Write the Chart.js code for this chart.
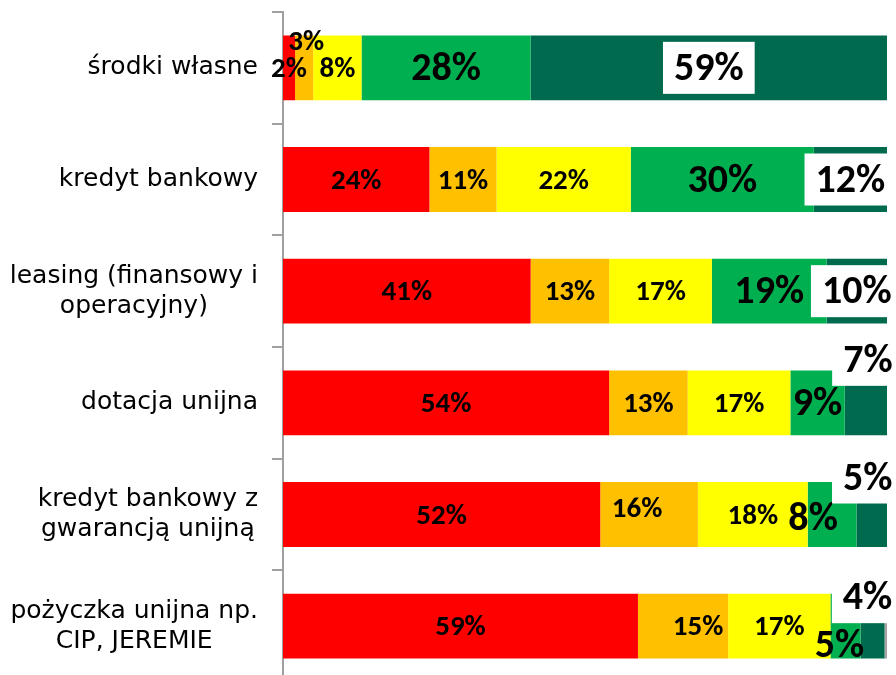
<!DOCTYPE html>
<html>
<head>
<meta charset="utf-8">
<script src="https://cdn.jsdelivr.net/npm/chart.js@4.4.1/dist/chart.umd.min.js"></script>
<style>
    body { margin: 0; background: #fff; overflow: hidden; }
    #wrap { width: 896px; height: 682px; }
</style>
</head>
<body>
<div id="wrap"><canvas id="myChart" width="896" height="682"></canvas></div>
<script>
// categories (top to bottom)
const categories = [
    "środki własne",
    "kredyt bankowy",
    ["leasing (finansowy i", "operacyjny)"],
    "dotacja unijna",
    ["kredyt bankowy z", "gwarancją unijną"],
    ["pożyczka unijna np.", "CIP, JEREMIE"]
];

// answer shares in %, one array per colour band
const redValues = [2, 24, 41, 54, 52, 59];
const orangeValues = [3, 11, 13, 13, 16, 15];
const yellowValues = [8, 22, 17, 17, 18, 17];
const greenValues = [28, 30, 19, 9, 8, 5];
const darkGreenValues = [59, 12, 10, 7, 5, 4];
const greyValues = [0, 0, 0, 0, 0, 0.4];

const seriesValues = [redValues, orangeValues, yellowValues, greenValues, darkGreenValues, greyValues];
const seriesColors = ['#FF0000', '#FFC000', '#FFFF00', '#00B050', '#006A4E', '#A6A6A6'];

// 100% stacked like in excel: every row is scaled to its own total
const rowTotals = categories.map((c, i) => seriesValues.reduce((s, arr) => s + arr[i], 0));
const datasets = seriesValues.map((arr, k) => ({
    data: arr.map((v, i) => v / rowTotals[i] * 100),
    backgroundColor: seriesColors[k],
    borderWidth: 0,
    barPercentage: 0.58,
    categoryPercentage: 1
}));

const labelFont = 'Carlito, "Liberation Sans Narrow", "DejaVu Sans Condensed", sans-serif';
// label look per series: size, white box
const labelStyle = [
    { size: 29, box: false },
    { size: 29, box: false },
    { size: 29, box: false },
    { size: 40, box: false },
    { size: 40, box: true },
    null
];
// hand nudges of single labels, "row,series": [dx, dy]
const nudge = {
    "0,1": [2, -27],
    "3,4": [2, -43],
    "4,1": [-12, -7],
    "4,3": [-19, 3],
    "4,4": [-4, -37],
    "5,1": [15, 0],
    "5,3": [-6, 19],
    "5,4": [-5, -29]
};

const valueLabels = {
    id: 'valueLabels',
    afterDatasetsDraw(chart) {
        const ctx = chart.ctx;
        ctx.save();
        ctx.textAlign = 'center';
        ctx.textBaseline = 'middle';
        chart.data.datasets.forEach((ds, k) => {
            const st = labelStyle[k];
            if (!st) return;
            chart.getDatasetMeta(k).data.forEach((bar, i) => {
                const txt = seriesValues[k][i] + '%';
                const d = nudge[i + ',' + k] || [0, 0];
                const x = (bar.x + bar.base) / 2 + d[0];
                const y = bar.y + d[1];
                ctx.font = 'bold ' + st.size + 'px ' + labelFont;
                if (st.box) {
                    const w = ctx.measureText(txt).width + 22;
                    ctx.fillStyle = '#FFFFFF';
                    ctx.fillRect(x - w / 2, y - 26, w, 52);
                }
                ctx.fillStyle = '#000000';
                ctx.fillText(txt, x, y + 2);
            });
        });
        ctx.restore();
    }
};

// category names: block right aligned to the axis, lines centred inside the block (like excel)
const categoryLabels = {
    id: 'categoryLabels',
    afterDraw(chart) {
        const ctx = chart.ctx;
        const yScale = chart.scales.y;
        const right = chart.chartArea.left - 25;
        const lineH = 30;
        ctx.save();
        ctx.font = '25px "DejaVu Sans", sans-serif';
        ctx.fillStyle = '#000000';
        ctx.textAlign = 'center';
        ctx.textBaseline = 'middle';
        categories.forEach((lab, i) => {
            const lines = Array.isArray(lab) ? lab : [lab];
            const maxW = Math.max(...lines.map(l => ctx.measureText(l).width));
            const cx = right - maxW / 2;
            const cy = yScale.getPixelForValue(i);
            lines.forEach((l, j) => {
                ctx.fillText(l, cx, cy + (j - (lines.length - 1) / 2) * lineH);
            });
        });
        ctx.restore();
    }
};

new Chart(document.getElementById('myChart').getContext('2d'), {
    type: 'bar',
    data: {
        labels: categories,
        datasets: datasets
    },
    options: {
        indexAxis: 'y',
        responsive: false,
        animation: false,
        layout: {
            padding: { left: 0, right: 9, top: 12, bottom: 0 }
        },
        plugins: {
            legend: { display: false },
            tooltip: { enabled: false }
        },
        scales: {
            x: {
                stacked: true,
                display: false,
                min: 0,
                max: 100
            },
            y: {
                stacked: true,
                afterFit(scale) {
                    scale.width = 283;
                    scale.paddingTop = 0;
                    scale.paddingBottom = 0;
                },
                grid: {
                    drawOnChartArea: false,
                    offset: true,
                    color: '#A0A0A0',
                    lineWidth: 2,
                    tickLength: 11
                },
                border: { color: '#A0A0A0', width: 2 },
                ticks: { display: false }
            }
        }
    },
    plugins: [valueLabels, categoryLabels]
});
</script>
</body>
</html>
